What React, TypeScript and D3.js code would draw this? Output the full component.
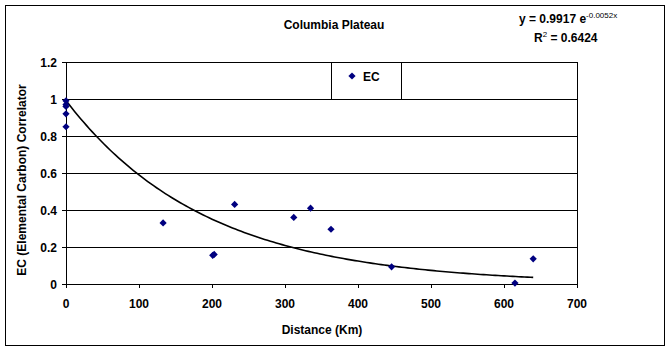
import React from "react";
import * as d3 from "d3";

const distances = [0, 0, 0, 0, 0, 133, 201, 203, 231, 312, 335, 363, 446, 615, 640];
const ecValues = [0.99, 0.97, 0.96, 0.92, 0.85, 0.33, 0.155, 0.16, 0.43, 0.36, 0.41, 0.296, 0.093, 0.005, 0.136];
const xTicks = [0, 100, 200, 300, 400, 500, 600, 700];
const yTicks = [0, 0.2, 0.4, 0.6, 0.8, 1, 1.2];
const fitA = 0.9917;
const fitB = -0.0052;
const fitRange = [0, 641];

const W = 670;
const H = 351;
const FONT = "'Liberation Sans', Arial, sans-serif";

export default function App() {
  const x = d3.scaleLinear().domain([0, 700]).range([66, 577]);
  const y = d3.scaleLinear().domain([0, 1.2]).range([284, 62]);
  const fitX = d3.range(fitRange[0], fitRange[1] + 0.001, 4);
  const line = d3
    .line<number>()
    .x((d) => x(d))
    .y((d) => y(fitA * Math.exp(fitB * d)));
  const diamond = d3.symbol().type(d3.symbolSquare).size(26)();
  const fmtY = (v: number) => (v === 0 ? "0" : v === 1 ? "1" : String(v));

  return (
    <svg width={W} height={H} style={{ position: "absolute", left: 0, top: 0, display: "block" }} fontFamily={FONT}>
      <rect x={0} y={0} width={W} height={H} fill="#fff" />
      <rect x={5.5} y={5.5} width={659} height={340} fill="none" stroke="#000" strokeWidth={1} />
      {yTicks.map((t) => (
        <line key={"g" + t} x1={66} x2={577} y1={Math.round(y(t)) + 0.5} y2={Math.round(y(t)) + 0.5} stroke="#000" strokeWidth={1} />
      ))}
      <line x1={577.5} x2={577.5} y1={62} y2={288} stroke="#000" />
      <line x1={66.5} x2={66.5} y1={62} y2={288} stroke="#000" />
      {yTicks.map((t) => (
        <g key={"y" + t}>
          <line x1={62} x2={66} y1={Math.round(y(t)) + 0.5} y2={Math.round(y(t)) + 0.5} stroke="#000" />
          <text x={57} y={y(t) + 4.5} textAnchor="end" fontSize={12} fontWeight="bold">
            {fmtY(t)}
          </text>
        </g>
      ))}
      {xTicks.map((t) => (
        <g key={"x" + t}>
          <line x1={Math.round(x(t)) + 0.5} x2={Math.round(x(t)) + 0.5} y1={284} y2={288} stroke="#000" />
          <text x={x(t)} y={308} textAnchor="middle" fontSize={12} fontWeight="bold">
            {t}
          </text>
        </g>
      ))}
      <path d={line(fitX) || ""} fill="none" stroke="#000" strokeWidth={1.6} />
      {distances.map((d, i) => (
        <path key={"p" + i} d={diamond || ""} transform={`translate(${x(d)},${y(ecValues[i])}) rotate(45)`} fill="#000080" />
      ))}
      <rect x={331.5} y={62.5} width={70} height={37} fill="#fff" stroke="#000" />
      <path d={diamond || ""} transform="translate(352,76) rotate(45)" fill="#000080" />
      <text x={363} y={80.5} fontSize={12} fontWeight="bold">EC</text>
      <text x={334} y={29} textAnchor="middle" fontSize={12} fontWeight="bold">Columbia Plateau</text>
      <text x={519} y={23} fontSize={12} fontWeight="bold">
        y = 0.9917 e<tspan dy={-5} fontSize={8} fontWeight="normal">-0.0052x</tspan>
      </text>
      <text x={534} y={42} fontSize={12} fontWeight="bold">
        R<tspan dy={-5} fontSize={8} fontWeight="normal">2</tspan>
        <tspan dy={5}> = 0.6424</tspan>
      </text>
      <text x={322} y={334} textAnchor="middle" fontSize={12} fontWeight="bold">Distance (Km)</text>
      <text transform="translate(26,180) rotate(-90)" textAnchor="middle" fontSize={12} fontWeight="bold">
        EC (Elemental Carbon) Correlator
      </text>
    </svg>
  );
}
